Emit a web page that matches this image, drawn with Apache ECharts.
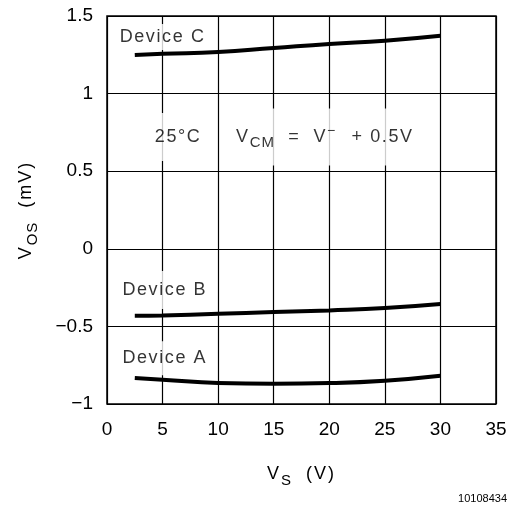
<!DOCTYPE html>
<html>
<head>
<meta charset="utf-8">
<script src="https://cdn.jsdelivr.net/npm/echarts@6/dist/echarts.min.js"></script>
<style>
  html, body { margin: 0; padding: 0; background: #fff; }
  #chart { width: 519px; height: 514px; }
</style>
</head>
<body>
<div id="chart"></div>
<script>
// supply voltage points (V)
const vs = [2.5, 5, 10, 15, 20, 25, 30]
// offset voltage (mV) per device
const deviceA = [-0.833, -0.843, -0.865, -0.869, -0.865, -0.85, -0.818]
const deviceB = [-0.431, -0.429, -0.419, -0.408, -0.397, -0.382, -0.356]
const deviceC = [1.249, 1.256, 1.268, 1.294, 1.32, 1.341, 1.373]

const xTicks = [0, 5, 10, 15, 20, 25, 30, 35]
const yTicks = [-1, -0.5, 0, 0.5, 1, 1.5]

const font = 'Liberation Sans'

// wrap each char in its own rich token so it gets a bit of letter spacing
const spaced = (s, tag) => s.split('').map(c => `{${tag}|${c}}`).join('')

// text notes placed in data coords
const notes = [
  { x: 5.0, y: 1.365, text: spaced('Device C', 'n'), pad: [4, 4] },
  { x: 5.2, y: -0.266, text: spaced('Device B', 'n'), pad: [10, 4] },
  { x: 5.2, y: -0.705, text: spaced('Device A', 'n'), pad: [8, 4] },
  { x: 6.4, y: 0.72, text: spaced('25°C', 'n'), pad: [15, 6] },
  { x: 19.6, y: 0.72, text: '{n|V}' + spaced('CM', 'sub') + spaced('  =  V', 'n') + '{sup|−}' + spaced('  + 0.5V', 'n'), pad: [15, 6] }
]

const chart = echarts.init(document.getElementById('chart'))

const lineSeries = (name, data) => ({
  name,
  type: 'line',
  smooth: true,
  symbol: 'none',
  lineStyle: { color: '#000', width: 4 },
  data: vs.map((v, i) => [v, data[i]]),
  z: 3
})

const titleRich = {
  n: { fontFamily: font, fontSize: 18, color: '#000', padding: [0, 2, 0, 0] },
  sub: { fontFamily: font, fontSize: 15, color: '#000', padding: [12, 1, 0, 0] }
}

const option = {
  animation: false,
  backgroundColor: '#fff',
  grid: {
    left: 107, right: 23, top: 16, bottom: 110,
    show: true, borderColor: '#000', borderWidth: 1.5
  },
  xAxis: {
    type: 'value',
    min: xTicks[0], max: xTicks[xTicks.length - 1], interval: 5,
    axisLine: { show: false },
    axisTick: { show: false },
    splitLine: { lineStyle: { color: '#000', width: 1.2 } },
    axisLabel: { color: '#000', fontFamily: font, fontSize: 19, margin: 16 },
    name: '{n|V}' + spaced('S', 'sub') + spaced('  (V)', 'n'),
    nameLocation: 'middle',
    nameGap: 57,
    nameTextStyle: { rich: titleRich }
  },
  yAxis: {
    type: 'value',
    min: yTicks[0], max: yTicks[yTicks.length - 1], interval: 0.5,
    axisLine: { show: false },
    axisTick: { show: false },
    splitLine: { lineStyle: { color: '#000', width: 1.2 } },
    axisLabel: {
      color: '#000', fontFamily: font, fontSize: 19, margin: 14,
      formatter: v => String(v).replace('-', '−')
    },
    name: '{n|V}' + spaced('OS', 'sub') + spaced('  (mV)', 'n'),
    nameLocation: 'middle',
    nameRotate: 90,
    nameGap: 67,
    nameTextStyle: { rich: titleRich }
  },
  graphic: [{
    type: 'text', right: 12, top: 493,
    style: { text: '10108434', font: '11px Liberation Sans', fill: '#000' }
  }],
  series: [
    lineSeries('Device A', deviceA),
    lineSeries('Device B', deviceB),
    lineSeries('Device C', deviceC),
    {
      type: 'scatter',
      symbolSize: 0,
      z: 5,
      silent: true,
      data: notes.map(n => ({
        value: [n.x, n.y],
        label: {
          show: true, position: 'inside', formatter: n.text,
          backgroundColor: '#fff', padding: n.pad,
          color: '#000', fontFamily: font, fontSize: 18,
          rich: {
            n: { fontFamily: font, fontSize: 18, color: '#000', padding: [0, 1.6, 0, 0] },
            sub: { fontFamily: font, fontSize: 15, color: '#000', padding: [12, 1, 0, 0] },
            sup: { fontFamily: font, fontSize: 14, color: '#000', padding: [0, 3, 12, 0] }
          }
        }
      }))
    }
  ]
}

chart.setOption(option)
</script>
</body>
</html>
